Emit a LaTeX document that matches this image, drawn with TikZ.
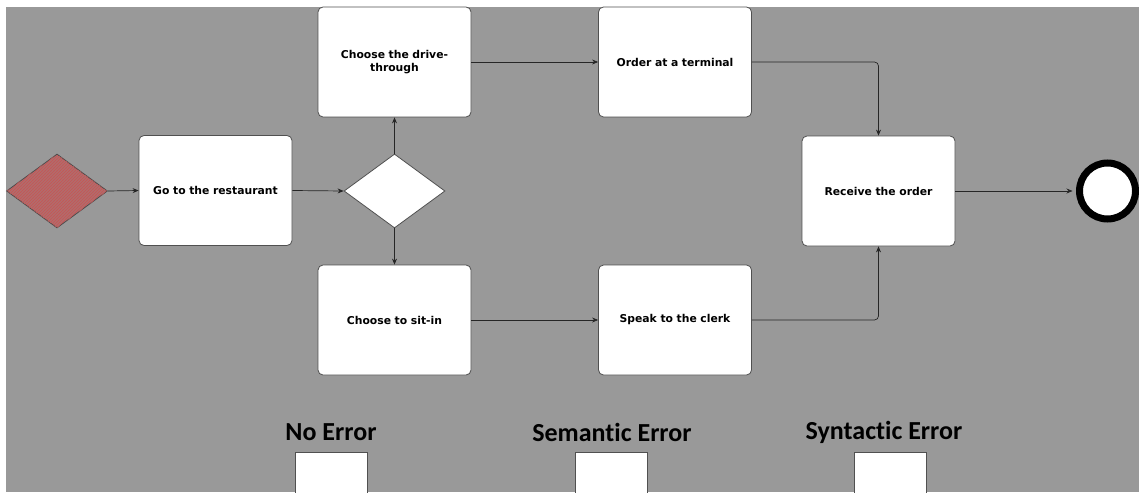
\documentclass[tikz,border=0pt]{standalone}
\usepackage{fontspec}
\setmainfont{DejaVu Sans}
\newfontfamily\titlefont[Ligatures=NoCommon]{Carlito}
\usetikzlibrary{arrows.meta,shapes.geometric,patterns}
\definecolor{bg}{RGB}{153,153,153}
\definecolor{edge}{RGB}{80,80,80}
\definecolor{startfill}{RGB}{178,108,108}
\tikzset{
  x=1pt,y=-1pt,
  task/.style={draw=edge,line width=0.8pt,fill=white,rounded corners=5pt,minimum width=153pt,minimum height=110pt,inner sep=0pt,font=\bfseries\fontsize{10.8}{13}\selectfont,align=center,text width=145pt},
  gate/.style={draw=edge,line width=0.8pt,fill=white,diamond,aspect=1.37,minimum width=101pt,minimum height=74pt,inner sep=0pt},
  flow/.style={draw=black!85,line width=0.7pt,-{Stealth[length=6pt,width=5pt]},rounded corners=4pt},
  legend/.style={font=\titlefont\bfseries\fontsize{26}{30}\selectfont,inner sep=0pt},
  checkbox/.style={draw=edge,line width=0.8pt,fill=white,minimum width=72pt,minimum height=50pt,inner sep=0pt}
}
\begin{document}
\begin{tikzpicture}
\useasboundingbox (0,0) rectangle (1139,492);
\fill[white] (0,0) rectangle (1139,492);
\fill[bg] (6,7) rectangle (1139,492);
% start event
\node[gate,fill=startfill,draw=black!70] (start) at (57,191) {};
\node[diamond,aspect=1.37,minimum width=101pt,minimum height=74pt,inner sep=0pt,pattern=north east lines,pattern color=red!45!bg] at (57,191) {};
\node[task] (go) at (215.5,190.5) {Go to the restaurant};
\node[gate] (gw) at (394.5,191) {};
\node[task] (drive) at (394.5,62) {Choose the drive-\\through\\[2pt]};
\node[task] (sit) at (394.5,320) {Choose to sit-in};
\node[task] (term) at (675,62) {Order at a terminal};
\node[task] (clerk) at (675,320) {Speak to the clerk};
\node[task] (recv) at (878.5,191) {Receive the order};
\node[circle,draw=black,line width=7pt,fill=white,minimum size=56pt,inner sep=0pt] (end) at (1107.5,191) {};
\coordinate (c1) at (878.5,62);
\coordinate (c2) at (878.5,320);
\draw[flow] (start.east) -- (go.west);
\draw[flow] (go.east) -- (gw.west);
\draw[flow] (gw.north) -- (drive.south);
\draw[flow] (gw.south) -- (sit.north);
\draw[flow] (drive.east) -- (term.west);
\draw[flow] (sit.east) -- (clerk.west);
\draw[flow] (term.east) -- (c1) -- (recv.north);
\draw[flow] (clerk.east) -- (c2) -- (recv.south);
\draw[flow] (recv.east) -- ([xshift=-3.5pt]end.west);
% legend
\node[legend] (l1) at (331,432) {No Error};
\node[legend] (l2) at (612,432) {Semantic Error};
\node[legend] (l3) at (884,432) {Syntactic Error};
\node[checkbox] (b1) at (331,477) {};
\node[checkbox] (b2) at (611,477) {};
\node[checkbox] (b3) at (890,477) {};
\end{tikzpicture}
\end{document}
